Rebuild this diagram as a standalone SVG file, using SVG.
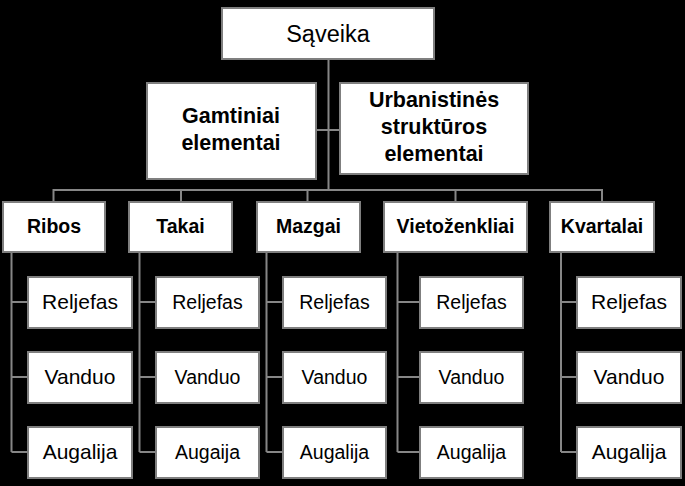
<svg xmlns="http://www.w3.org/2000/svg" width="685" height="486" viewBox="0 0 685 486">
<style>
.box{fill:#fff;stroke:#7f7f7f;stroke-width:2}
.ln{stroke:#868686;stroke-width:2;fill:none}
text{font-family:"Liberation Sans",Arial,sans-serif;fill:#000;text-anchor:middle}
.top{font-size:23.5px}
.mid{font-size:21.5px;font-weight:bold}
.hd{font-size:19.5px;font-weight:bold}
.cl{font-size:21px}
.cs{font-size:19.5px}
</style>
<rect x="0" y="0" width="685" height="486" fill="#000"/>
<g id="connectors" class="ln">
<path d="M328.5 60V190M317 130H339M53.5 201V190H602V201M181 190V201M307.5 190V201M455.5 190V201"/>
<path d="M11.5 253V452M11.5 302H27M11.5 377H27M11.5 452H27"/>
<path d="M139.5 253V452M139.5 302H155M139.5 377H155M139.5 452H155"/>
<path d="M266.5 253V452M266.5 302H282M266.5 377H282M266.5 452H282"/>
<path d="M397.5 253V452M397.5 302H419M397.5 377H419M397.5 452H419"/>
<path d="M561 253V452M561 302H576M561 377H576M561 452H576"/>
</g>
<g id="saveika"><rect class="box" x="222" y="8" width="212" height="51"/><text class="top" x="328" y="42">Sąveika</text></g>
<g id="gamtiniai"><rect class="box" x="147" y="83" width="169" height="96"/><text class="mid" x="231" y="123">Gamtiniai</text><text class="mid" x="231" y="150">elementai</text></g>
<g id="urbanistines"><rect class="box" x="340" y="83" width="188" height="91"/><text class="mid" x="434" y="107">Urbanistinės</text><text class="mid" x="434" y="134">struktūros</text><text class="mid" x="434" y="161">elementai</text></g>
<g id="ribos"><rect class="box" x="3" y="202" width="102" height="50"/><text class="hd" x="54" y="233">Ribos</text></g>
<g id="takai"><rect class="box" x="129" y="202" width="103" height="50"/><text class="hd" x="180.5" y="233">Takai</text></g>
<g id="mazgai"><rect class="box" x="257" y="202" width="103" height="50"/><text class="hd" x="308.5" y="233">Mazgai</text></g>
<g id="vietozenkliai"><rect class="box" x="384" y="202" width="143" height="50"/><text class="hd" x="455.5" y="233">Vietoženkliai</text></g>
<g id="kvartalai"><rect class="box" x="550" y="202" width="104" height="50"/><text class="hd" x="602" y="233">Kvartalai</text></g>
<g id="ribos-reljefas"><rect class="box" x="28" y="277" width="104" height="51"/><text class="cl" x="80" y="309">Reljefas</text></g>
<g id="ribos-vanduo"><rect class="box" x="28" y="352" width="104" height="51"/><text class="cl" x="80" y="384">Vanduo</text></g>
<g id="ribos-augalija"><rect class="box" x="28" y="427" width="104" height="51"/><text class="cl" x="80" y="459">Augalija</text></g>
<g id="takai-reljefas"><rect class="box" x="156" y="277" width="103" height="51"/><text class="cs" x="207.5" y="309">Reljefas</text></g>
<g id="takai-vanduo"><rect class="box" x="156" y="352" width="103" height="51"/><text class="cs" x="207.5" y="384">Vanduo</text></g>
<g id="takai-augaija"><rect class="box" x="156" y="427" width="103" height="51"/><text class="cs" x="207.5" y="459">Augaija</text></g>
<g id="mazgai-reljefas"><rect class="box" x="283" y="277" width="103" height="51"/><text class="cs" x="334.5" y="309">Reljefas</text></g>
<g id="mazgai-vanduo"><rect class="box" x="283" y="352" width="103" height="51"/><text class="cs" x="334.5" y="384">Vanduo</text></g>
<g id="mazgai-augalija"><rect class="box" x="283" y="427" width="103" height="51"/><text class="cs" x="334.5" y="459">Augalija</text></g>
<g id="viet-reljefas"><rect class="box" x="420" y="277" width="103" height="51"/><text class="cs" x="471.5" y="309">Reljefas</text></g>
<g id="viet-vanduo"><rect class="box" x="420" y="352" width="103" height="51"/><text class="cs" x="471.5" y="384">Vanduo</text></g>
<g id="viet-augalija"><rect class="box" x="420" y="427" width="103" height="51"/><text class="cs" x="471.5" y="459">Augalija</text></g>
<g id="kvart-reljefas"><rect class="box" x="577" y="277" width="104" height="51"/><text class="cl" x="629" y="309">Reljefas</text></g>
<g id="kvart-vanduo"><rect class="box" x="577" y="352" width="104" height="51"/><text class="cl" x="629" y="384">Vanduo</text></g>
<g id="kvart-augalija"><rect class="box" x="577" y="427" width="104" height="51"/><text class="cl" x="629" y="459">Augalija</text></g>
</svg>
